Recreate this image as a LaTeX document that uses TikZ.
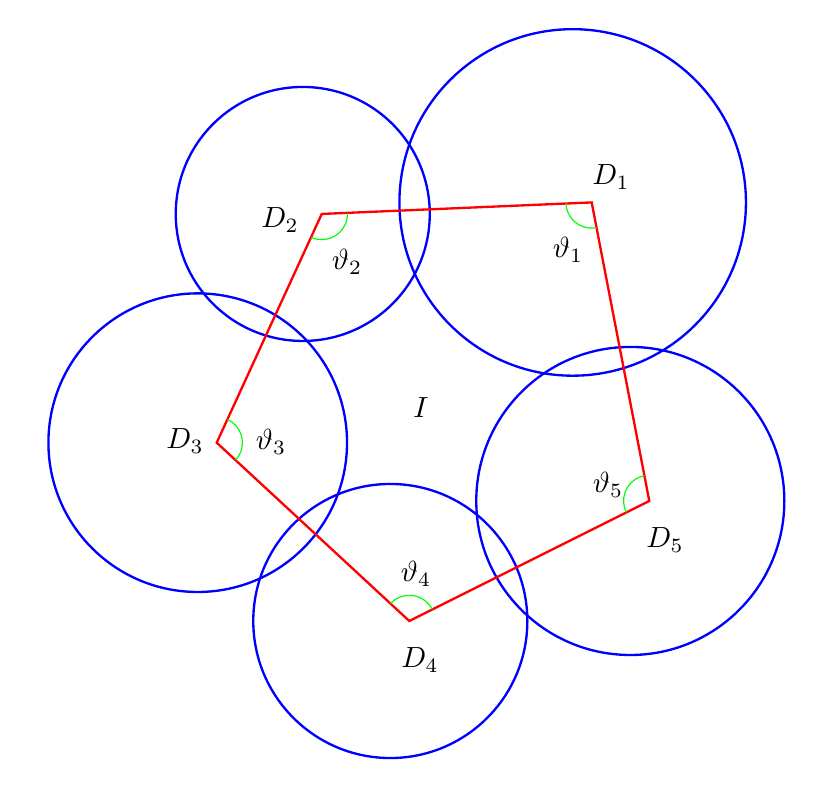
\documentclass[tikz,border=0pt]{standalone}
\usepackage{amssymb}
\usepackage{tikz}
\usetikzlibrary{angles,positioning}

\begin{document}
\begin{tikzpicture}
			\tikzstyle{Disc}	= [thick, blue]
			\tikzstyle{Poly}	= [thick, red]
			\tikzstyle{Ang}		= [draw=green, thin, angle radius=0.31cm]
			
			\useasboundingbox (0, 0) rectangle (10, 9.469);
			
			\coordinate (p1) at (7.137, 7.027);
			\coordinate (p2) at (3.881, 6.888);
			\coordinate (p3) at (2.614, 4.129);
			\coordinate (p4) at (4.937, 1.978);
			\coordinate (p5) at (7.832, 3.426);
			
			\draw [Disc] ([xshift=-0.229cm]p1) circle (2.090);
			\draw [Disc] ([xshift=-0.229cm]p2) circle (1.532);
			\draw [Disc] ([xshift=-0.229cm]p3) circle (1.801);
			\draw [Disc] ([xshift=-0.229cm]p4) circle (1.653);
			\draw [Disc] ([xshift=-0.229cm]p5) circle (1.858);
			
			\draw [Poly] (p1) -- (p2) -- (p3) -- (p4) -- (p5) -- cycle;
			
			\pic [Ang] {angle = p2--p1--p5};
			\pic [Ang] {angle = p3--p2--p1};
			\pic [Ang] {angle = p4--p3--p2};
			\pic [Ang] {angle = p5--p4--p3};
			\pic [Ang] {angle = p1--p5--p4};
			
			\node (d1) at (7.370, 7.334) {$D_1$};
			\node (d2) at (3.378, 6.815) {$D_2$};
			\node (d3) at (2.232, 4.150) {$D_3$};
			\node (d4) at (5.066, 1.508) {$D_4$};
			\node (d5) at (8.022, 2.955) {$D_5$};
			
			\node (t1) at (6.852, 6.453) {$\vartheta_1$};
			\node (t2) at (4.186, 6.309) {$\vartheta_2$};
			\node (t3) at (3.269, 4.137) {$\vartheta_3$};
			\node (t4) at (5.018, 2.545) {$\vartheta_4$};
			\node (t5) at (7.334, 3.619) {$\vartheta_5$};
			
			\node (inner) at (5.078, 4.548) {$I$};
		\end{tikzpicture}
\end{document}
